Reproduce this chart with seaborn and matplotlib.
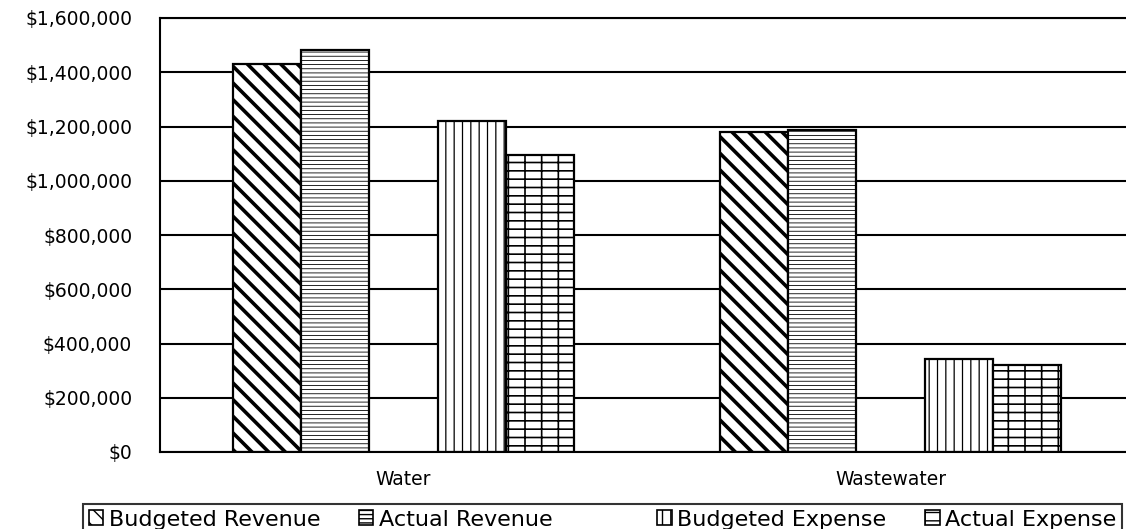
import numpy as np
import pandas as pd
import seaborn as sns
import matplotlib.pyplot as plt
from matplotlib.patches import Patch
from matplotlib.ticker import FuncFormatter

# Values
categories = ["Water", "Wastewater"]
series = ["Budgeted Revenue", "Actual Revenue", " ", "Budgeted Expense", "Actual Expense"]
budgeted_revenue = [1429000, 1181000]
actual_revenue = [1481000, 1186000]
spacer = [0, 0]  # empty series that leaves the gap in each group
budgeted_expense = [1222000, 344000]
actual_expense = [1095000, 322000]
yticks = [0, 200000, 400000, 600000, 800000, 1000000, 1200000, 1400000, 1600000]

hatches = ["\\\\", "----", "", "||", "+-"]
hatch_widths = [2.6, 0.6, 1.0, 0.9, 1.2]

rows = []
for name, vals in zip(series, [budgeted_revenue, actual_revenue, spacer,
                               budgeted_expense, actual_expense]):
    for cat, v in zip(categories, vals):
        rows.append({"category": cat, "series": name, "amount": v})
df = pd.DataFrame(rows)

sns.set_theme(style="white")
plt.rcParams["font.family"] = ["DejaVu Sans"]
plt.rcParams["text.color"] = "black"
plt.rcParams["hatch.color"] = "black"

fig = plt.figure(figsize=(11.26, 5.29), dpi=100)
ax = fig.add_axes([160 / 1126, 1 - 452 / 529, 974 / 1126, 434 / 529])

sns.barplot(data=df, x="category", y="amount", hue="series", hue_order=series,
            order=categories, palette={s: "white" for s in series},
            edgecolor="black", linewidth=1.6, width=0.7, gap=0, saturation=1,
            legend=False, errorbar=None, ax=ax)

for cont, h, hw in zip(ax.containers, hatches, hatch_widths):
    for bar in cont:
        if h:
            bar.set_hatch(h)
            if hasattr(bar, "set_hatch_linewidth"):
                bar.set_hatch_linewidth(hw)
        else:
            bar.set_visible(False)

ax.set_xlim(-0.5, 1.5)
ax.set_ylim(0, 1600000)
ax.set_yticks(yticks)
ax.yaxis.set_major_formatter(FuncFormatter(lambda v, p: f"${v:,.0f}"))
ax.yaxis.grid(True, color="black", linewidth=1.5)
ax.set_axisbelow(True)
ax.set_xlabel("")
ax.set_ylabel("")
ax.tick_params(axis="y", length=0, pad=20, labelsize=13.5, colors="black", labelcolor="black")
ax.tick_params(axis="x", length=0, pad=13, labelsize=13.5, colors="black", labelcolor="black")
for side in ["left", "bottom", "top"]:
    ax.spines[side].set_color("black")
    ax.spines[side].set_linewidth(1.5)
ax.spines["right"].set_visible(False)

handles = []
for h in hatches:
    if h:
        handles.append(Patch(facecolor="white", edgecolor="black", hatch=h, linewidth=1.2))
    else:
        handles.append(Patch(facecolor="none", edgecolor="none"))
leg = fig.legend(handles, series, ncol=5, loc="upper left",
                 bbox_to_anchor=(83 / 1126, 1 - 504 / 529, 1039 / 1126, 0.0),
                 mode="expand", borderaxespad=0, fancybox=False, frameon=True,
                 edgecolor="black", fontsize=16, handlelength=0.65, handleheight=0.65,
                 handletextpad=0.25, borderpad=0.25, labelcolor="black")
leg.get_frame().set_linewidth(1.5)

fig.savefig("out.png", dpi=100)
